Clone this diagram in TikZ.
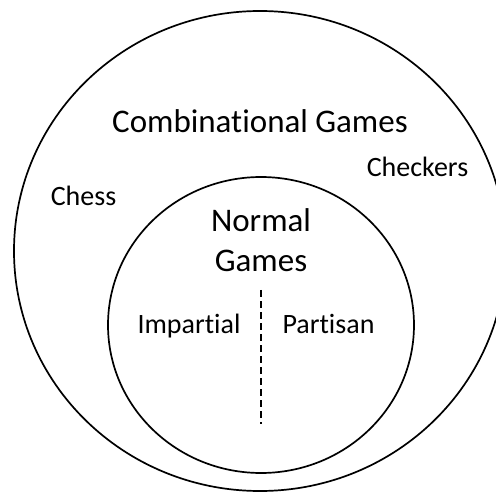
\documentclass[tikz,border=0pt]{standalone}
\usepackage{fontspec}
\setmainfont[RawFeature={-liga;-clig;-dlig}]{Carlito}
\usetikzlibrary{shapes.geometric}
\begin{document}
\begin{tikzpicture}[x=1pt,y=-1pt,
  ring/.style={draw=black,line width=1.7pt,ellipse,inner sep=0pt,outer sep=0pt},
  big/.style={font=\fontsize{33}{40}\selectfont,anchor=base,inner sep=0pt},
  small/.style={font=\fontsize{28}{34}\selectfont,anchor=base,inner sep=0pt},
  divider/.style={line width=1.7pt,dash pattern=on 7pt off 4pt}]
\clip (0,0) rectangle (496,492);
\node[ring,minimum width=492pt,minimum height=480pt] (outer) at (260,251) {};
\node[ring,minimum width=306pt,minimum height=296pt] (inner) at (261,325) {};
\node[big] (comb) at (260,133) {Combinational Games};
\node[big] (normal) at (261,232) {Normal};
\node[big] (games) at (261,272) {Games};
\node[small] (chess) at (83.5,206) {Chess};
\node[small] (checkers) at (417.5,177) {Checkers};
\node[small] (imp) at (189,333) {Impartial};
\node[small] (par) at (328.5,333) {Partisan};
\coordinate (dtop) at (261,290);
\coordinate (dbot) at (261,424);
\draw[divider] (dtop) -- (dbot);
\end{tikzpicture}
\end{document}
